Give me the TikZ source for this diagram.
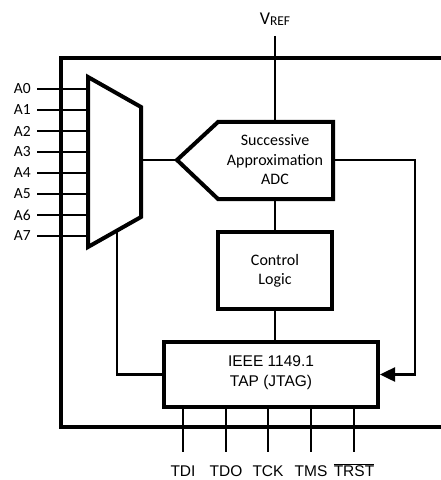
\documentclass[tikz,border=0pt]{standalone}
\usepackage{fontspec}
\setmainfont{Carlito}
\newfontfamily\arialf{Liberation Sans}
\usetikzlibrary{arrows.meta}
\begin{document}
\begin{tikzpicture}[x=1bp,y=-1bp,
  thickline/.style={line width=4bp,line join=miter},
  thinline/.style={line width=2.5bp},
  lbl/.style={inner sep=0pt,font=\fontsize{15.5bp}{18bp}\selectfont},
  btxt/.style={inner sep=0pt,align=center,font=\fontsize{16bp}{19.5bp}\selectfont},
  jtxt/.style={inner sep=0pt,align=center,font=\arialf\fontsize{15.5bp}{20bp}\selectfont},
  blk/.style={draw,thickline,inner sep=0pt}]
\useasboundingbox (0,0) rectangle (441,480);
% outer chip boundary
\draw[thickline] (450,58) -- (61,58) -- (61,427) -- (450,427);
% VREF
\node[inner sep=0pt,font=\fontsize{18bp}{20bp}\selectfont] (vref) at (275,19) {V\raisebox{-1.5bp}{\fontsize{13.5bp}{15bp}\selectfont REF}};
\coordinate (vreftop) at (275,36);
% mux
\coordinate (m1) at (88,77);
\coordinate (m2) at (141,107);
\coordinate (m3) at (141,217);
\coordinate (m4) at (88,247);
\draw[thickline] (m1) -- (m2) -- (m3) -- (m4) -- cycle;
\coordinate (muxout) at (141,160);
\coordinate (muxbot) at (117,230.5);
% inputs
\foreach \i/\y in {0/89,1/110,2/131,3/152,4/173,5/194,6/215,7/236}{
  \node[lbl,anchor=east] (a\i) at (31,\y) {A\i};
  \coordinate (in\i) at (88,\y);
  \draw[thinline] (37,\y) -- (in\i);
}
% ADC
\coordinate (adctip) at (177,160);
\coordinate (adcr) at (333,160);
\coordinate (adctop) at (275,122);
\coordinate (adcbot) at (275,199);
\draw[thickline] (adctip) -- (218,122) -- (333,122) -- (333,199) -- (218,199) -- cycle;
\node[btxt] (adc) at (275,160) {Successive\\Approximation\\ADC};
% control logic
\node[blk,minimum width=114bp,minimum height=77bp] (ctl) at (275,270.5) {};
\node[btxt] (ctltxt) at (275,271) {Control\\Logic};
% JTAG
\node[blk,minimum width=214bp,minimum height=65bp] (jtag) at (271,374.5) {};
\node[jtxt] (jtxt) at (271,373) {IEEE 1149.1\\TAP (JTAG)};
% connectors
\draw[thinline] (vreftop) -- (adctop);
\draw[thinline] (muxout) -- (adctip);
\draw[thinline] (adcbot) -- (ctl.north);
\draw[thinline] (ctl.south) -- (jtag.north -| ctl.south);
\draw[thinline] (muxbot) |- (jtag.west);
\coordinate (rt) at (415,160);
\draw[thinline,-{Triangle[length=15bp,width=14bp]}] (adcr) -- (rt) |- (jtag.east);
% pins
\foreach \n/\x/\t in {tdi/183/TDI,tdo/226/TDO,tck/268/TCK,tms/311/TMS,trst/354/\ensuremath{\overline{\mbox{TRST}}}}{
  \node[jtxt,anchor=base] (\n) at (\x,476) {\t};
  \draw[thinline] (\x,407) -- (\x,452);
}
\end{tikzpicture}
\end{document}
